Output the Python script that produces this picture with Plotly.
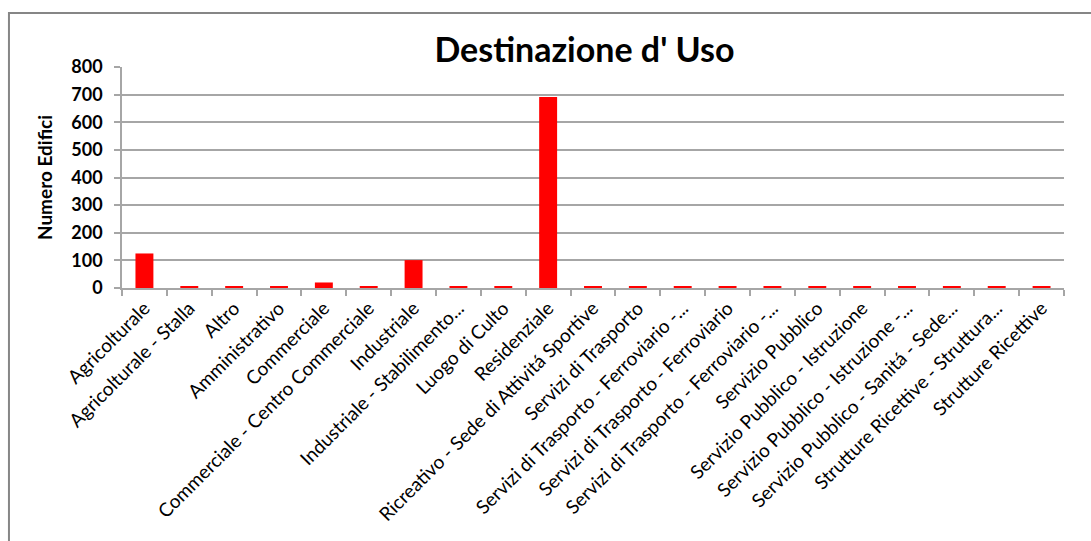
import plotly.graph_objects as go

# Destinazione d'uso degli edifici
categorie = [
    "Agricolturale",
    "Agricolturale - Stalla",
    "Altro",
    "Amministrativo",
    "Commerciale",
    "Commerciale - Centro Commerciale",
    "Industriale",
    "Industriale - Stabilimento...",
    "Luogo di Culto",
    "Residenziale",
    "Ricreativo - Sede di Attivitá Sportive",
    "Servizi di Trasporto",
    "Servizi di Trasporto - Ferroviario -...",
    "Servizi di Trasporto - Ferroviario",
    "Servizi di Trasporto - Ferroviario -...",
    "Servizio Pubblico",
    "Servizio Pubblico - Istruzione",
    "Servizio Pubblico - Istruzione -...",
    "Servizio Pubblico - Sanitá - Sede...",
    "Strutture Ricettive - Struttura...",
    "Strutture Ricettive",
]
numero_edifici = [125, 5, 5, 5, 20, 5, 101, 5, 5, 691, 5, 5, 5, 5, 5, 5, 5, 5, 5, 5, 5]

posizioni = list(range(len(categorie)))
bordi = [p - 0.5 for p in posizioni] + [posizioni[-1] + 0.5]

fig = go.Figure()
fig.add_trace(go.Bar(x=posizioni, y=numero_edifici, marker_color="#ff0000",
                     marker_line_width=0, name="Numero Edifici"))

fig.update_layout(
    width=1091, height=541,
    paper_bgcolor="white", plot_bgcolor="white",
    margin=dict(l=122, r=27, t=67, b=253, autoexpand=False),
    bargap=0.6,
    showlegend=False,
    font=dict(family="Lato", color="black"),
    title=dict(text="Destinazione d' Uso", x=0.491, xref="paper", xanchor="center",
               y=0.908, yanchor="middle",
               font=dict(family="Lato", size=34, weight="bold", color="black")),
)

fig.update_xaxes(
    range=[-0.5, len(categorie) - 0.5],
    tickvals=posizioni, ticktext=categorie, tickangle=-45,
    ticks="", tickfont=dict(size=19, color="black"),
    showline=True, linecolor="#a6a6a6", linewidth=1.5,
    showgrid=False, zeroline=False, automargin=False,
    minor=dict(tickvals=bordi, ticks="outside", ticklen=6, tickcolor="#a6a6a6",
               tickwidth=1.5, showgrid=False),
)

fig.update_yaxes(
    range=[0, 800], dtick=100,
    ticks="outside", ticklen=6, tickcolor="#a6a6a6", tickwidth=1.5,
    tickfont=dict(size=18, color="black", weight="bold"),
    ticklabelstandoff=8,
    showline=True, linecolor="#a6a6a6", linewidth=1.5,
    showgrid=True, gridcolor="#a6a6a6", gridwidth=1.5,
    zeroline=False, automargin=False,
    title=dict(text="Numero Edifici", standoff=14,
               font=dict(size=19, color="black", weight="bold")),
)

# bordo del grafico
fig.add_shape(type="rect", xref="paper", yref="paper",
              x0=-0.12, x1=1.06, y0=-1.5, y1=1.244,
              line=dict(color="#868686", width=2), layer="below")

fig.write_html("out.html", config={"displayModeBar": False},
               post_script="document.body.style.margin = '0';")
